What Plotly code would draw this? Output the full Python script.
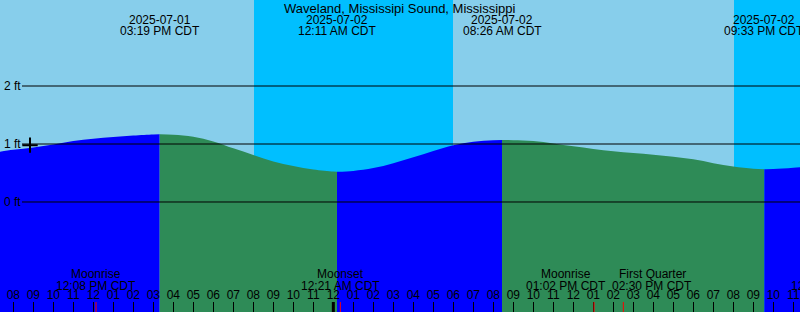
import plotly.graph_objects as go
from datetime import datetime

# ---------------- data ----------------
tide_times = [
    "2025-07-01 07:00", "2025-07-01 08:00", "2025-07-01 09:00", "2025-07-01 10:00",
    "2025-07-01 11:00", "2025-07-01 12:00", "2025-07-01 13:00", "2025-07-01 14:00",
    "2025-07-01 15:00", "2025-07-01 15:19", "2025-07-01 16:00", "2025-07-01 17:00",
    "2025-07-01 18:00", "2025-07-01 19:00", "2025-07-01 20:00", "2025-07-01 21:00",
    "2025-07-01 22:00", "2025-07-01 23:00", "2025-07-02 00:00", "2025-07-02 00:11",
    "2025-07-02 01:00", "2025-07-02 02:00", "2025-07-02 03:00", "2025-07-02 04:00",
    "2025-07-02 05:00", "2025-07-02 06:00", "2025-07-02 07:00", "2025-07-02 08:00",
    "2025-07-02 08:26", "2025-07-02 09:00", "2025-07-02 10:00", "2025-07-02 11:00",
    "2025-07-02 12:00", "2025-07-02 13:00", "2025-07-02 14:00", "2025-07-02 15:00",
    "2025-07-02 16:00", "2025-07-02 17:00", "2025-07-02 18:00", "2025-07-02 19:00",
    "2025-07-02 20:00", "2025-07-02 21:00", "2025-07-02 21:33", "2025-07-02 22:00",
    "2025-07-02 23:00", "2025-07-03 00:00",
]
tide_ft = [
    0.85, 0.90, 0.94, 0.99,
    1.05, 1.09, 1.12, 1.145,
    1.163, 1.167, 1.16, 1.125,
    1.045, 0.925, 0.81, 0.70,
    0.62, 0.56, 0.524, 0.522,
    0.535, 0.585, 0.67, 0.77,
    0.88, 0.98, 1.04, 1.066,
    1.069, 1.066, 1.052, 1.01,
    0.96, 0.915, 0.875, 0.845,
    0.815, 0.78, 0.735, 0.67,
    0.61, 0.575, 0.566, 0.568,
    0.59, 0.62,
]
extreme_times = ["2025-07-01 15:19", "2025-07-02 00:11", "2025-07-02 08:26", "2025-07-02 21:33"]

night_start = ["2025-07-01 20:02", "2025-07-02 20:02"]
night_end = ["2025-07-02 05:59", "2025-07-03 05:59"]

moon_events = ["Moonrise", "Moonset", "Moonrise", "First Quarter", "Moonset"]
moon_times = ["2025-07-01 12:08", "2025-07-02 00:21", "2025-07-02 13:02",
              "2025-07-02 14:30", "2025-07-03 00:50"]
moon_label_shift = [0, 0, -28, 29, 0]

day_marks = ["2025-07-02 00:00"]

now_time = ["2025-07-01 08:50"]
now_ft = [0.98]

ft_ticks = [0, 1, 2]
ft_labels = ["0 ft", "1 ft", "2 ft"]

title = "Waveland, Mississipi Sound, Mississippi"
x_range = ["2025-07-01 07:20", "2025-07-02 23:20"]
y_range = [-1.897, 3.483]

# ---------------- style ----------------
DAY = "#87CEEB"
NIGHT = "#00BFFF"
RISE = "#0000FF"
FALL = "#2E8B57"
FONT = dict(family="Liberation Sans, Arial, sans-serif", size=12, color="black")
TFONT = dict(family="Liberation Sans, Arial, sans-serif", size=13, color="black")
W, H = 800, 312

fmt = "%Y-%m-%d %H:%M"
def dt(s):
    return datetime.strptime(s, fmt)

fig = go.Figure()

# tide fill segments, split at extremes
idx = [tide_times.index(t) for t in extreme_times]
bounds = [0] + idx + [len(tide_times) - 1]
floor = y_range[0] - 5
for a, b in zip(bounds[:-1], bounds[1:]):
    xs = tide_times[a:b + 1]
    ys = tide_ft[a:b + 1]
    color = RISE if ys[-1] > ys[0] else FALL
    fig.add_trace(go.Scatter(x=xs, y=[floor] * len(xs), mode="lines",
                             line=dict(width=0), hoverinfo="skip", showlegend=False))
    fig.add_trace(go.Scatter(x=xs, y=ys, mode="lines", fill="tonexty",
                             fillcolor=color, line=dict(width=0, shape="spline", color=color),
                             showlegend=False))

# current-time marker
fig.add_trace(go.Scatter(x=now_time, y=now_ft, mode="markers",
                         marker=dict(symbol="cross-thin", size=11,
                                     line=dict(width=2, color="black")),
                         showlegend=False))

shapes = []
# night shading
for s, e in zip(night_start, night_end):
    shapes.append(dict(type="rect", xref="x", yref="paper", x0=s, x1=e, y0=0, y1=1,
                       fillcolor=NIGHT, line=dict(width=0), layer="below"))
# foot lines
for v in ft_ticks:
    shapes.append(dict(type="line", xref="paper", yref="y", x0=22 / W, x1=1, y0=v, y1=v,
                       line=dict(color="black", width=1), layer="above"))
# midnight marks
for t in day_marks:
    shapes.append(dict(type="line", xref="x", yref="paper", x0=t, x1=t, y0=0, y1=10 / H,
                       line=dict(color="black", width=3), layer="above"))
# moon event ticks
for t in moon_times:
    shapes.append(dict(type="line", xref="x", yref="paper", x0=t, x1=t, y0=0, y1=10 / H,
                       line=dict(color="red", width=1), layer="above"))

annotations = []
annotations.append(dict(text=title, xref="paper", yref="paper", x=0.5, y=1, yshift=-8,
                        xanchor="center", yanchor="middle", showarrow=False, font=TFONT))
for t in extreme_times:
    d = dt(t)
    annotations.append(dict(text=d.strftime("%Y-%m-%d"), xref="x", yref="paper", x=t, y=1,
                            yshift=-19.5, xanchor="center", yanchor="middle",
                            showarrow=False, font=FONT))
    annotations.append(dict(text=d.strftime("%I:%M %p CDT"), xref="x", yref="paper", x=t, y=1,
                            yshift=-31.3, xanchor="center", yanchor="middle",
                            showarrow=False, font=FONT))

# foot labels
for v, lab in zip(ft_ticks, ft_labels):
    annotations.append(dict(text=lab, xref="paper", yref="y", x=0, y=v, xshift=2,
                            xanchor="left", yanchor="middle", showarrow=False, font=FONT))

x0, x1 = dt(x_range[0]), dt(x_range[1])
for name, t, sh in zip(moon_events, moon_times, moon_label_shift):
    d = dt(t)
    frac = (d - x0) / (x1 - x0)
    annotations.append(dict(text=name, xref="paper", yref="paper", x=frac, y=0, xshift=sh,
                            yshift=38.2, xanchor="center", yanchor="middle",
                            showarrow=False, font=FONT))
    annotations.append(dict(text=d.strftime("%I:%M %p CDT"), xref="paper", yref="paper",
                            x=frac, y=0, xshift=sh, yshift=26.5, xanchor="center",
                            yanchor="middle", showarrow=False, font=FONT))

fig.update_layout(
    width=W, height=H, margin=dict(l=0, r=0, t=0, b=0),
    paper_bgcolor=DAY, plot_bgcolor=DAY,
    shapes=shapes, annotations=annotations, showlegend=False,
    xaxis=dict(type="date", range=x_range, tick0="2025-07-01 00:00", dtick=3600000,
               tickformat="%I", ticks="inside", ticklen=10, tickcolor="black", tickwidth=1,
               ticklabelposition="inside", tickfont=FONT, showgrid=False, zeroline=False,
               showline=False, fixedrange=True),
    yaxis=dict(range=y_range, visible=False, showgrid=False, zeroline=False,
               fixedrange=True),
)

fig.write_html("out.html")
